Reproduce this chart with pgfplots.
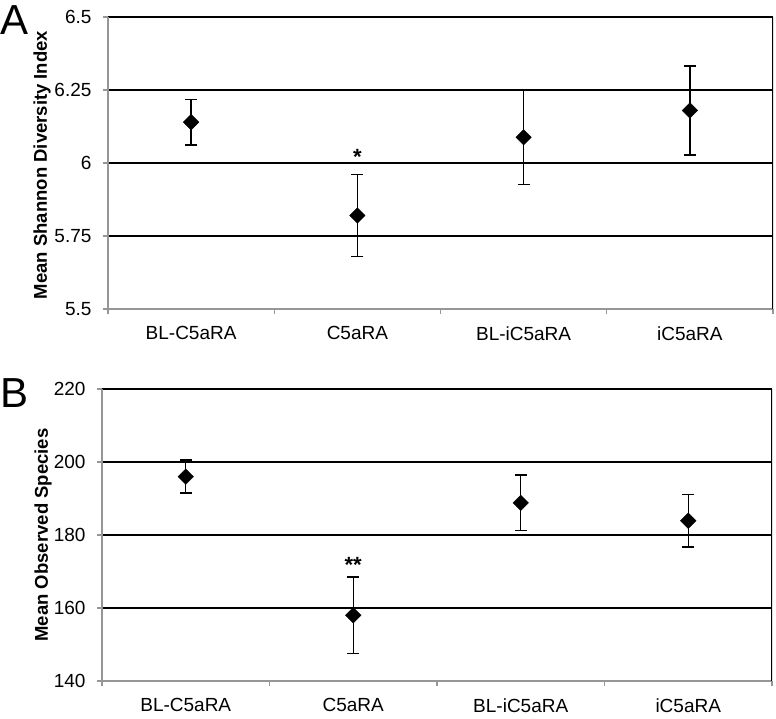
\documentclass[border=0pt]{standalone}
\usepackage{pgfplots}
\pgfplotsset{compat=1.18}
\usepackage{fontspec}
\setmainfont{Liberation Sans}
\definecolor{axgray}{RGB}{150,150,150}
\newcommand{\tl}{\fontsize{19}{21}\selectfont}
\pgfplotsset{
  mystyle/.style={
    scale only axis,
    xmin=-0.5, xmax=3.5,
    xtick={0,1,2,3},
    xticklabels={{\tl BL-C5aRA},{\tl C5aRA},{\tl BL-iC5aRA},{\tl iC5aRA}},
    minor xtick={-0.5,0.5,1.5,2.5,3.5},
    major x tick style={draw=none},
    minor x tick style={axgray, line width=1.2pt},
    tick align=outside,
    major tick length=5pt,
    minor tick length=5pt,
    axis x line*=bottom, axis y line*=left,
    axis line style={axgray, line width=1.5pt, -},
    ymajorgrids,
    grid style={black, line width=1.2pt},
    y tick style={axgray, line width=1.2pt},
    yticklabel={\tl\pgfmathprintnumber[assume math mode=true]{\tick}},
    xticklabel style={yshift=-9pt},
    yticklabel style={xshift=-8pt},
  },
  ebplot/.style={
    only marks, mark=square*, mark size=5.5pt,
    mark options={rotate=45, fill=black, draw=black},
    error bars/.cd, y dir=both, y explicit,
    error mark options={rotate=90, black, mark size=6pt, line width=1.4pt},
    error bar style={line width=1.4pt, black},
  }
}
\pgfplotstableread{
x y e
0 6.140 0.078
1 5.820 0.140
2 6.088 0.161
3 6.180 0.152
}\dataA
\pgfplotstableread{
x y e
0 196.0 4.5
1 158.0 10.5
2 188.8 7.6
3 183.9 7.2
}\dataB
\begin{document}
\begin{tikzpicture}
\useasboundingbox (0pt,0pt) rectangle (776pt,718pt);
% Panel A
\begin{axis}[mystyle,
  at={(108pt,409pt)}, anchor=south west,
  width=665pt, height=292pt,
  ymin=5.5, ymax=6.5,
  ytick={5.5,5.75,6,6.25,6.5},
]
\addplot[ebplot] table[x=x, y=y, y error=e] {\dataA};
\draw[black, line width=1.2pt] (rel axis cs:1,0) -- (rel axis cs:1,1);
\node[anchor=base, inner sep=0pt, font=\fontsize{22}{22}\selectfont\bfseries] at (axis cs:1,5.996) {*};
\end{axis}
% Panel B
\begin{axis}[mystyle,
  at={(102pt,37pt)}, anchor=south west,
  width=670pt, height=292pt,
  ymin=140, ymax=220,
  ytick={140,160,180,200,220},
]
\addplot[ebplot] table[x=x, y=y, y error=e] {\dataB};
\draw[black, line width=1.2pt] (rel axis cs:1,0) -- (rel axis cs:1,1);
\node[anchor=base, inner sep=0pt, font=\fontsize{22}{22}\selectfont\bfseries] at (axis cs:1,169.6) {**};
\end{axis}
\node[rotate=90, font=\fontsize{18.5}{20}\selectfont\bfseries] at (42pt,553pt) {Mean Shannon Diversity Index};
\node[rotate=90, font=\fontsize{18.5}{20}\selectfont\bfseries] at (43pt,183pt) {Mean Observed Species};
\node[anchor=base west, inner sep=0pt, font=\fontsize{42}{42}\selectfont] at (0pt,683pt) {A};
\node[anchor=base west, inner sep=0pt, font=\fontsize{42}{42}\selectfont] at (0pt,310pt) {B};
\end{tikzpicture}
\end{document}
